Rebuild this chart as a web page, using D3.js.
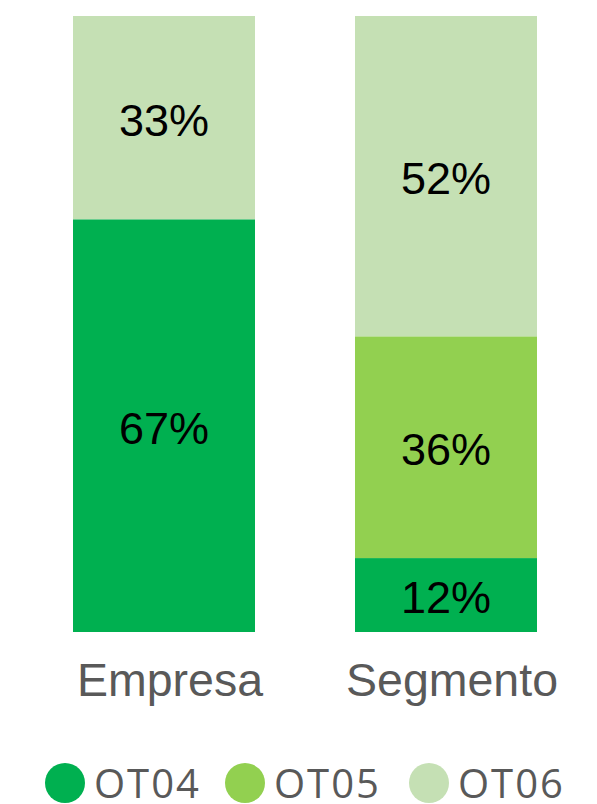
<!DOCTYPE html>
<html>
<head>
<meta charset="utf-8">
<script src="https://cdn.jsdelivr.net/npm/d3@7"></script>
<style>
  html, body { margin: 0; padding: 0; background: #ffffff; }
  svg { display: block; }
</style>
</head>
<body>
<svg id="chart" width="597" height="804"></svg>
<script>
const categories = ["Empresa", "Segmento"];
const seriesNames = ["OT04", "OT05", "OT06"];
const ot04 = [0.67, 0.12];
const ot05 = [0.00, 0.36];
const ot06 = [0.33, 0.52];
const colors = ["#00B050", "#92D050", "#C5E0B4"];

const rows = categories.map((c, i) => ({ cat: c, OT04: ot04[i], OT05: ot05[i], OT06: ot06[i] }));

const svg = d3.select("#chart");
const x = d3.scaleBand().domain(categories).range([73, 537]).paddingInner(100 / 282).paddingOuter(0);
const y = d3.scaleLinear().domain([0, 1]).range([632, 16]);
const color = d3.scaleOrdinal().domain(seriesNames).range(colors);

const stacked = d3.stack().keys(seriesNames)(rows);

const layers = svg.append("g").selectAll("g").data(stacked).join("g")
  .attr("fill", d => color(d.key));

layers.selectAll("rect").data(d => d).join("rect")
  .attr("x", d => x(d.data.cat))
  .attr("width", x.bandwidth())
  .attr("y", d => y(d[1]))
  .attr("height", d => y(d[0]) - y(d[1]));

const labelSize = 45;
layers.selectAll("text").data(d => d.filter(p => p[1] - p[0] > 0)).join("text")
  .attr("x", d => x(d.data.cat) + x.bandwidth() / 2)
  .attr("y", d => (y(d[0]) + y(d[1])) / 2 + labelSize * 0.358 + 2)
  .attr("text-anchor", "middle")
  .attr("font-family", "'Liberation Sans', Arial, sans-serif")
  .attr("font-size", labelSize)
  .attr("fill", "#000000")
  .text(d => d3.format(".0%")(d[1] - d[0]));

// category axis labels
const xAxis = d3.axisBottom(x).tickSize(0).tickPadding(0);
const ax = svg.append("g").attr("transform", "translate(6,0)").call(xAxis);
ax.select(".domain").remove();
ax.selectAll("text")
  .attr("y", 696)
  .attr("dy", null)
  .attr("font-family", "'Liberation Sans', Arial, sans-serif")
  .attr("font-size", 46.5)
  .attr("fill", "#595959");

// legend
const legendX = [65, 245, 429];
const legend = svg.append("g").selectAll("g").data(seriesNames).join("g")
  .attr("transform", (d, i) => `translate(${legendX[i]},783)`);
legend.append("circle").attr("r", 20).attr("fill", d => color(d));
legend.append("text")
  .attr("x", 29)
  .attr("y", 15)
  .attr("font-family", "'Open Sans', sans-serif")
  .attr("font-size", 40)
  .attr("letter-spacing", 2)
  .attr("fill", "#595959")
  .text(d => d);
</script>
</body>
</html>
